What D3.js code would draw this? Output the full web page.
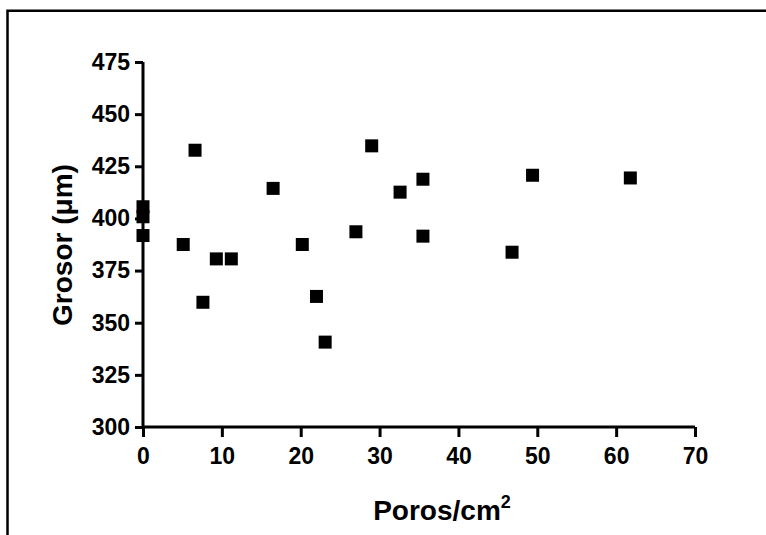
<!DOCTYPE html>
<html>
<head>
<meta charset="utf-8">
<script src="https://cdn.jsdelivr.net/npm/d3@7"></script>
<style>
  html, body { margin: 0; padding: 0; background: #fff; }
  svg { display: block; font-family: "Liberation Sans", Arial, Helvetica, sans-serif; }
</style>
</head>
<body>
<svg id="chart" width="766" height="535"></svg>
<script>
// Data
const porosX   = [0, 0, 0, 5.1, 6.6, 7.6, 9.3, 11.2, 16.5, 20.2, 22.0, 23.1, 27.0, 29.0, 32.6, 35.5, 35.5, 46.8, 49.4, 61.8];
const grosorY  = [405.6, 400.8, 391.8, 387.5, 432.7, 359.8, 380.6, 380.6, 414.4, 387.5, 362.6, 340.7, 393.6, 434.8, 412.6, 418.8, 391.5, 383.8, 420.7, 419.4];
const xTicks   = [0, 10, 20, 30, 40, 50, 60, 70];
const yTicks   = [300, 325, 350, 375, 400, 425, 450, 475];
const xTitle   = "Poros/cm";
const xTitleSup = "2";
const yTitle   = "Grosor (\u03BCm)";

const svg = d3.select("#chart");

// outer frame (top and left edges visible)
svg.append("path")
  .attr("d", "M7.5,535 L7.5,10.8 L766,10.8")
  .attr("fill", "none").attr("stroke", "#000").attr("stroke-width", 2.5);

const x = d3.scaleLinear().domain([0, 70]).range([143, 695]);
const y = d3.scaleLinear().domain([300, 475]).range([427, 62]);

// Y axis
const yAxis = svg.append("g").attr("transform", "translate(143,0)")
  .call(d3.axisLeft(y).tickValues(yTicks).tickSize(8).tickPadding(5).tickFormat(d3.format("d")));
// X axis
const xAxis = svg.append("g").attr("transform", "translate(0,427)")
  .call(d3.axisBottom(x).tickValues(xTicks).tickSize(10).tickPadding(5).tickFormat(d3.format("d")));

[yAxis, xAxis].forEach(g => {
  g.select(".domain").attr("stroke", "#000").attr("stroke-width", 3);
  g.selectAll(".tick line").attr("stroke", "#000").attr("stroke-width", 3);
  g.selectAll(".tick text").attr("fill", "#000")
    .attr("font-size", 23).attr("font-weight", "bold")
    .attr("font-family", "'Liberation Sans', Arial, sans-serif");
});
yAxis.select(".domain").attr("d", `M0,${y(475)}V${y(300)}`);
xAxis.select(".domain").attr("d", `M${x(0)},0H${x(70)}`);
xAxis.selectAll(".tick text").attr("dy", "0.95em");

// markers
const s = 13;
svg.append("g").selectAll("rect")
  .data(porosX.map((v, i) => [v, grosorY[i]]))
  .join("rect")
  .attr("x", d => x(d[0]) - s / 2)
  .attr("y", d => y(d[1]) - s / 2)
  .attr("width", s).attr("height", s)
  .attr("fill", "#000");

// axis titles
const xt = svg.append("text")
  .attr("x", 442).attr("y", 520)
  .attr("text-anchor", "middle")
  .attr("font-size", 28).attr("font-weight", "bold").attr("fill", "#000");
xt.append("tspan").text(xTitle);
xt.append("tspan").attr("dy", -12).attr("font-size", 18).text(xTitleSup);

svg.append("text")
  .attr("transform", "translate(72,245) rotate(-90)")
  .attr("text-anchor", "middle")
  .attr("font-size", 28).attr("font-weight", "bold").attr("fill", "#000")
  .text(yTitle);
</script>
</body>
</html>
